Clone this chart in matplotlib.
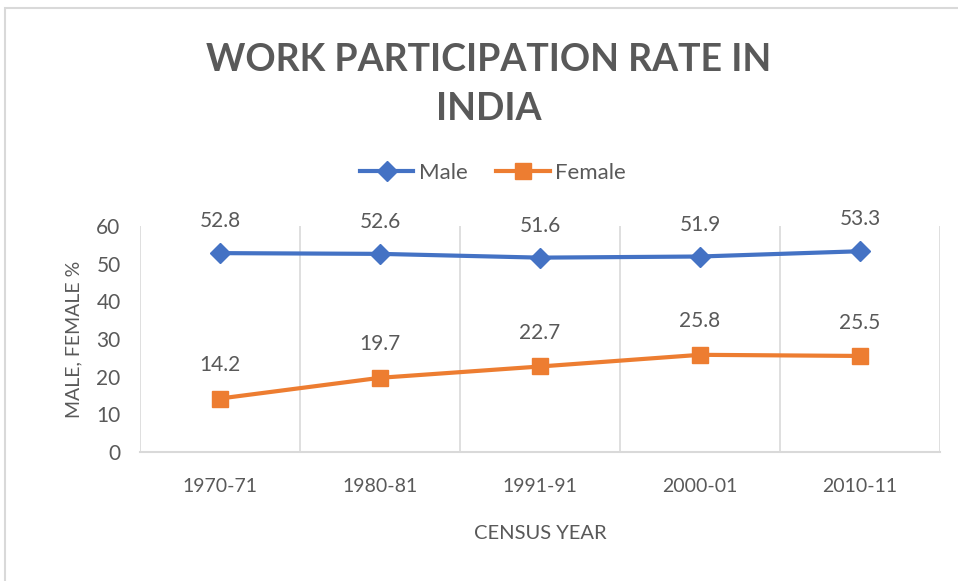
import matplotlib.pyplot as plt
from matplotlib.patches import Rectangle

plt.rcParams['font.family'] = ['Lato', 'DejaVu Sans']

years = ['1970-71', '1980-81', '1991-91', '2000-01', '2010-11']
male = [52.8, 52.6, 51.6, 51.9, 53.3]
female = [14.2, 19.7, 22.7, 25.8, 25.5]

blue = '#4472C4'
orange = '#ED7D31'
text_gray = '#595959'
grid_gray = '#D9D9D9'

fig = plt.figure(figsize=(9.58, 5.81), dpi=100)
fig.patches.append(Rectangle((5 / 958, -0.1), 1.1, 1.1 - 8 / 581, transform=fig.transFigure,
                             fill=False, edgecolor=grid_gray, linewidth=1.5))
ax = fig.add_axes([140 / 958, 129 / 581, 800 / 958, 226 / 581])

x = list(range(len(years)))
ax.plot(x, male, color=blue, linewidth=3, marker='D', markersize=10.5, label='Male', zorder=3)
ax.plot(x, female, color=orange, linewidth=3, marker='s', markersize=11.5, label='Female', zorder=3)

for xi, v in zip(x, male):
    ax.annotate(f'{v}', (xi, v), xytext=(0, 23), textcoords='offset points',
                ha='center', va='center', fontsize=15, color=text_gray)
for xi, v in zip(x, female):
    ax.annotate(f'{v}', (xi, v), xytext=(0, 24), textcoords='offset points',
                ha='center', va='center', fontsize=15, color=text_gray)

ax.set_xlim(-0.5, len(years) - 0.5)
ax.set_ylim(0, 60)
ax.set_yticks(range(0, 61, 10))
ax.set_xticks(x)
ax.set_xticklabels(years)
for b in [i - 0.5 for i in range(len(years) + 1)]:
    ax.axvline(b, color=grid_gray, linewidth=1.2, zorder=1)

for s in ['top', 'right', 'left']:
    ax.spines[s].set_visible(False)
ax.spines['bottom'].set_color(grid_gray)
ax.spines['bottom'].set_linewidth(1.5)
ax.tick_params(axis='both', length=0, colors=text_gray)
ax.tick_params(axis='y', labelsize=15, pad=14)
ax.tick_params(axis='x', labelsize=14, pad=19)

ax.set_ylabel('MALE, FEMALE %', fontsize=14, color=text_gray, labelpad=10)
ax.set_xlabel('CENSUS YEAR', fontsize=14.5, color=text_gray, labelpad=21)

fig.text(0.51, 0.855, 'WORK PARTICIPATION RATE IN\nINDIA', ha='center', va='center',
         fontsize=27, fontweight='bold', color=text_gray, linespacing=1.55)

ax.legend(loc='center', bbox_to_anchor=(353 / 800, 1.235), ncol=2, frameon=False,
          fontsize=16, labelcolor=text_gray, handlelength=2.4, columnspacing=1.3,
          handletextpad=0.25, borderaxespad=0)

fig.savefig('out.png', dpi=100)
